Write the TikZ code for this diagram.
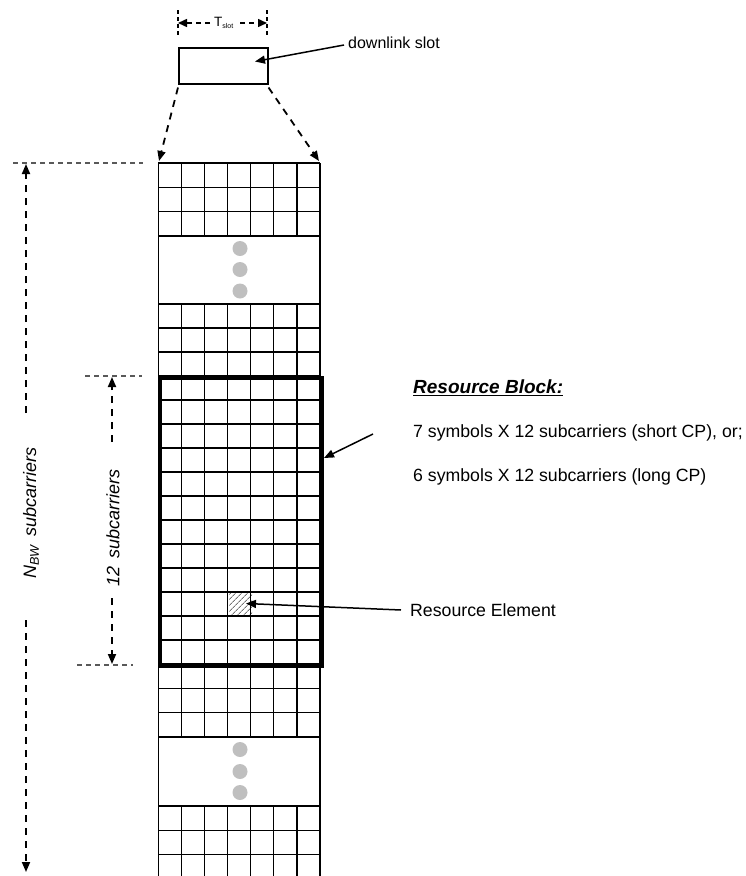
\documentclass[tikz,border=0pt]{standalone}
\usepackage{fontspec}
\setmainfont{Liberation Sans}
\usetikzlibrary{arrows.meta,patterns.meta}
\tikzset{
  gridline/.style={line width=1.3pt,black},
  tip/.style={-{Triangle[length=10pt,width=8pt]}},
  dimline/.style={line width=1.8pt,dash pattern=on 7pt off 6pt},
  extline/.style={line width=1.2pt,black!65,dash pattern=on 5pt off 4pt},
  lbl/.style={inner sep=0pt,anchor=west,font=\fontsize{17.7}{20}\selectfont},
  dot/.style={circle,fill=black!25,minimum size=15pt,inner sep=0pt},
}
\begin{document}
\begin{tikzpicture}[x=1pt,y=-1pt]
\useasboundingbox (0,0) rectangle (745,876);
% hatched resource element
\fill[pattern={Lines[angle=45,distance=4pt,line width=1pt]},pattern color=black!55] (229,592) rectangle (252,616);
% grid sections
\def\xL{158.3}\def\xR{320}
\foreach \ya/\yb/\n in {163/236/3,304/376/3,376/664/12,664/737/3}{
  \foreach \i in {0,...,\n}{
    \draw[gridline] (\xL,{\ya+\i*(\yb-\ya)/\n}) -- (\xR,{\ya+\i*(\yb-\ya)/\n});
  }
  \foreach \j in {1,...,6}{
    \draw[gridline] ({\xL+\j*(\xR-\xL)/7},\ya) -- ({\xL+\j*(\xR-\xL)/7},\yb);
  }
}
\foreach \y in {806,830.3,854.6}{
  \draw[gridline] (\xL,\y) -- (\xR,\y);
}
\foreach \j in {1,...,6}{
  \draw[gridline] ({\xL+\j*(\xR-\xL)/7},806) -- ({\xL+\j*(\xR-\xL)/7},876);
}
\draw[gridline] (\xL,163) -- (\xL,876);
\draw[gridline] (\xR,163) -- (\xR,876);
% ellipsis dots
\node[dot] (d1) at (240,248.5) {};
\node[dot] (d2) at (240,269.5) {};
\node[dot] (d3) at (240,291) {};
\node[dot] (d4) at (240,749.5) {};
\node[dot] (d5) at (240,771.5) {};
\node[dot] (d6) at (240,792.5) {};
% resource block
\node[draw,line width=3.6pt,minimum width=162pt,minimum height=288pt,inner sep=0pt,anchor=north west] (rb) at (158.3,376) {};
% downlink slot box
\node[draw,line width=1.5pt,minimum width=89pt,minimum height=36pt,inner sep=0pt,anchor=north west] (slot) at (178,47) {};
% T_slot dimension
\coordinate (tl0) at (178,10); \coordinate (tl1) at (178,36);
\coordinate (tr0) at (267,10); \coordinate (tr1) at (267,36);
\draw[line width=1.1pt,dash pattern=on 4pt off 3pt] (tl0) -- (tl1);
\draw[line width=1.1pt,dash pattern=on 4pt off 3pt] (tr0) -- (tr1);
\node[inner sep=0pt,font=\fontsize{13.5}{15}\selectfont] (tslot) at (224,23) {T\textsubscript{\fontsize{7}{8}\selectfont slot}};
\coordinate (ta) at (178,23); \coordinate (tb) at (267,23);
\draw[dimline,line width=1.5pt,dash pattern=on 5pt off 4pt,-{Triangle[length=9pt,width=8pt]}] (210,23) -- (ta);
\draw[dimline,line width=1.5pt,dash pattern=on 5pt off 4pt,-{Triangle[length=9pt,width=8pt]}] (240,23) -- (tb);
% dashed lines from slot to grid
\coordinate (gtl) at (159,161); \coordinate (gtr) at (319,161);
\draw[dimline,tip] (slot.south west) ++(0,3) -- (gtl);
\draw[dimline,tip] (slot.south east) ++(0,3) -- (gtr);
% downlink slot label
\node[lbl,font=\fontsize{16}{18}\selectfont] (dl) at (348,43) {downlink slot};
\coordinate (dltip) at (255,61.5);
\draw[line width=1.5pt,tip] (dl.west) ++(-4,2) -- (dltip);
% N_BW dimension
\draw[extline] (13,163) -- (143,163);
\coordinate (n0) at (26,164); \coordinate (n1) at (26,413);
\coordinate (n2) at (26,620); \coordinate (n3) at (26,872);
\draw[dimline,tip] (n1) -- (n0);
\draw[dimline,tip] (n2) -- (n3);
\node[inner sep=0pt,rotate=90,font=\itshape\fontsize{18}{20}\selectfont] (nbw) at (31,513) {N\textsubscript{BW}\, subcarriers};
% 12 subcarriers dimension
\draw[extline] (85,376) -- (142,376);
\draw[extline] (77,665) -- (133,665);
\coordinate (s0) at (112,377); \coordinate (s1) at (112,442);
\coordinate (s2) at (112,598); \coordinate (s3) at (112,664);
\draw[dimline,tip] (s1) -- (s0);
\draw[dimline,tip] (s2) -- (s3);
\node[inner sep=0pt,rotate=90,font=\itshape\fontsize{18}{20}\selectfont] (tw) at (113,528) {12\, subcarriers};
% resource block text
\node[lbl,font=\bfseries\itshape\fontsize{19}{22}\selectfont] (rbh) at (413,388) {\underline{Resource Block:}};
\node[lbl] (rb1) at (413,433) {7 symbols X 12 subcarriers (short CP), or;};
\node[lbl] (rb2) at (413,477) {6 symbols X 12 subcarriers (long CP)};
\coordinate (rbtip) at (324,458);
\draw[line width=1.5pt,tip] (rb1.west) ++(-40,1) -- (rbtip);
% resource element
\node[lbl] (re) at (410,610) {Resource Element};
\coordinate (retip) at (246,603.5);
\draw[line width=1.5pt,tip] (re.west) ++(-9,0) -- (retip);
\end{tikzpicture}
\end{document}
